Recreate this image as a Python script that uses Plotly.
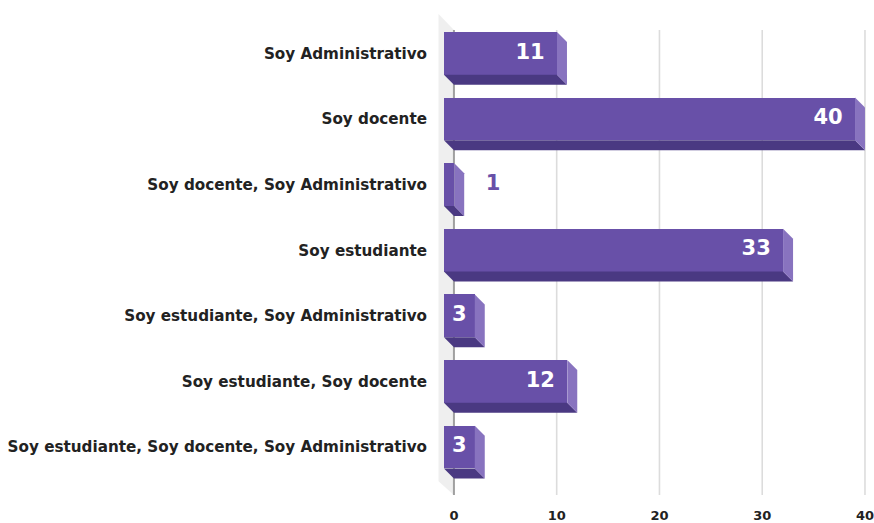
import plotly.graph_objects as go

# Survey responses by role
categories = [
    "Soy Administrativo",
    "Soy docente",
    "Soy docente, Soy Administrativo",
    "Soy estudiante",
    "Soy estudiante, Soy Administrativo",
    "Soy estudiante, Soy docente",
    "Soy estudiante, Soy docente, Soy Administrativo",
]
counts = [11, 40, 1, 33, 3, 12, 3]
x_ticks = [0, 10, 20, 30, 40]

FRONT = "#6850a8"
SIDE = "#8873bf"
BOTTOM = "#4a3982"
FONT = "DejaVu Sans"

# 3D extrusion depth in data units (x: value units, y: category units)
DX = 0.97
DY = 0.152
W = 0.652  # bar thickness in category units

X_MIN, X_MAX = -1.55, 40.78
Y_MIN, Y_MAX = -0.578, 6.751
WALL_DX = 1.5
GRID_TOP = 6.508

n = len(categories)
pos = [n - 1 - i for i in range(n)]

shapes = []
# back wall on the left
shapes.append(dict(
    type="path", xref="x", yref="y", layer="below",
    path=(f"M {-WALL_DX},{Y_MAX} L 0,{GRID_TOP} L 0,{Y_MIN} "
          f"L {-WALL_DX},{Y_MIN + (Y_MAX - GRID_TOP) * 0.87} Z"),
    fillcolor="#efefef", line=dict(width=0),
))
# vertical gridlines and the zero line
for t in x_ticks:
    shapes.append(dict(
        type="line", xref="x", yref="y", layer="below",
        x0=t, x1=t, y0=Y_MIN, y1=GRID_TOP,
        line=dict(color="#a0a0a0" if t == 0 else "#dcdcdc",
                  width=2 if t == 0 else 1.6),
    ))

fig = go.Figure()

# front faces
fig.add_trace(go.Bar(
    y=[p + DY for p in pos], x=counts, base=-DX, orientation="h",
    width=W, marker=dict(color=FRONT, line=dict(width=0)),
    hoverinfo="skip", showlegend=False,
))

# bottom and right faces of each bar
for v, p in zip(counts, pos):
    ft, fb = p + DY + W / 2, p + DY - W / 2
    bt, bb = p + W / 2, p - W / 2
    fig.add_trace(go.Scatter(
        x=[-DX, v - DX, v, 0, -DX], y=[fb, fb, bb, bb, fb],
        fill="toself", fillcolor=BOTTOM, line=dict(width=0),
        mode="lines", hoverinfo="skip", showlegend=False))
    fig.add_trace(go.Scatter(
        x=[v - DX, v, v, v - DX, v - DX], y=[ft, bt, bb, fb, ft],
        fill="toself", fillcolor=SIDE, line=dict(width=0),
        mode="lines", hoverinfo="skip", showlegend=False))

# value labels
lx, ly, lt, lpos, lcol = [], [], [], [], []
for v, p in zip(counts, pos):
    if v >= 5:
        lx.append(v - DX - 1.2); lpos.append("middle left"); lcol.append("white")
    elif v >= 2:
        lx.append(v / 2 - DX); lpos.append("middle center"); lcol.append("white")
    else:
        lx.append(v + 2.1); lpos.append("middle right"); lcol.append(FRONT)
    ly.append(p + DY)
    lt.append(str(v))
fig.add_trace(go.Scatter(
    x=lx, y=ly, text=lt, mode="text", textposition=lpos,
    textfont=dict(family=FONT, size=21, color=lcol, weight="bold"),
    hoverinfo="skip", showlegend=False, cliponaxis=False,
))

fig.update_layout(
    width=874, height=523,
    margin=dict(l=438, r=0, t=14, b=26),
    paper_bgcolor="white", plot_bgcolor="white",
    bargap=0,
    shapes=shapes,
    font=dict(family=FONT, color="#222222"),
    xaxis=dict(range=[X_MIN, X_MAX], tickvals=x_ticks, showgrid=False,
               zeroline=False, showline=False, ticks="outside", ticklen=8,
               tickcolor="rgba(0,0,0,0)", ticklabeloverflow="allow",
               tickfont=dict(family=FONT, size=13, color="#222222", weight="bold")),
    yaxis=dict(range=[Y_MIN, Y_MAX], tickvals=[p + DY for p in pos],
               ticktext=categories, showgrid=False, zeroline=False,
               showline=False, ticks="", ticklabelstandoff=10,
               tickfont=dict(family=FONT, size=15.2, color="#222222", weight="bold")),
)

fig.write_html("out.html")
